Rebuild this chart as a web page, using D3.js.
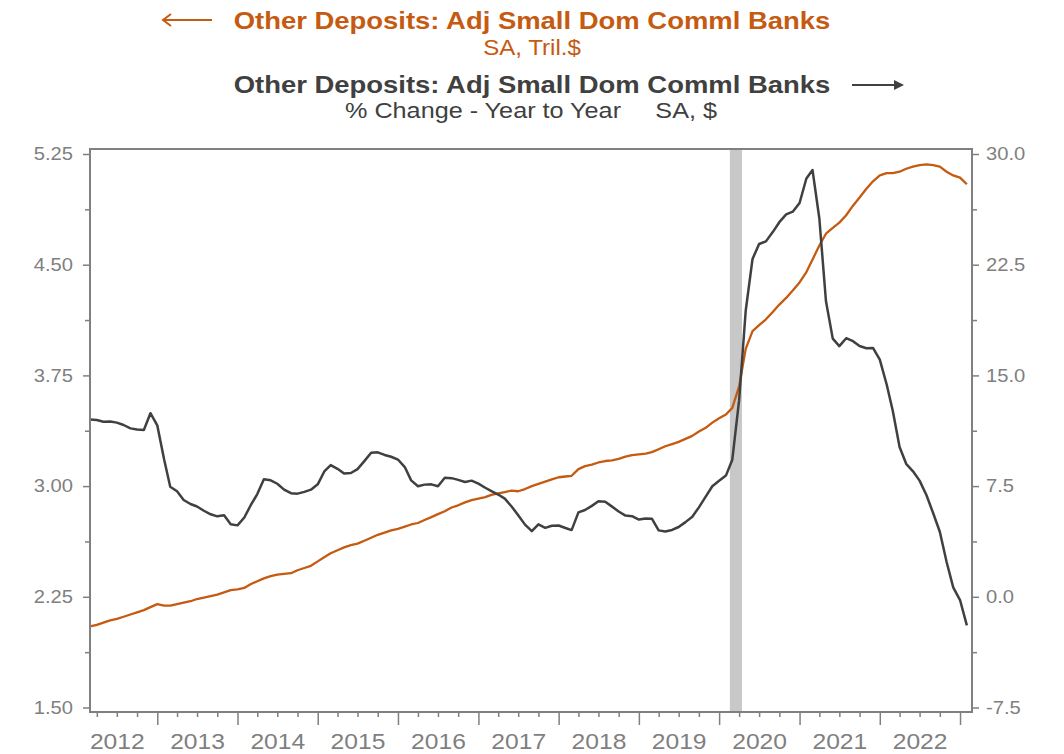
<!DOCTYPE html>
<html>
<head>
<meta charset="utf-8">
<script src="https://cdn.jsdelivr.net/npm/d3@7"></script>
<style>
  body { margin: 0; background: #fff; }
  svg text { font-family: Arial, "Liberation Sans", sans-serif; }
</style>
</head>
<body>
<svg id="chart" width="1064" height="754"></svg>
<script>
// monthly, Mar 2012 .. Feb 2023
var firstMonth = new Date(2012, 2, 1);

// Other deposits, small domestic commercial banks, SA, Tril.$ (left axis)
var depositsLevel = [
  2.05, 2.06, 2.075, 2.09, 2.10, 2.115, 2.13, 2.145, 2.16, 2.18,
  2.20, 2.19, 2.19, 2.20, 2.21, 2.22, 2.235, 2.245, 2.255, 2.265,
  2.28, 2.295, 2.30, 2.31, 2.335, 2.355, 2.375, 2.39, 2.40, 2.405,
  2.41, 2.43, 2.445, 2.46, 2.49, 2.52, 2.545, 2.565, 2.585, 2.60,
  2.61, 2.63, 2.65, 2.67, 2.685, 2.70, 2.71, 2.725, 2.74, 2.75,
  2.77, 2.79, 2.81, 2.83, 2.855, 2.87, 2.89, 2.905, 2.915, 2.925,
  2.94, 2.95, 2.96, 2.97, 2.965, 2.98, 3.00, 3.015, 3.03, 3.045,
  3.06, 3.065, 3.07, 3.115, 3.135, 3.145, 3.16, 3.17, 3.175, 3.185,
  3.20, 3.21, 3.215, 3.22, 3.23, 3.25, 3.27, 3.285, 3.30, 3.32,
  3.34, 3.37, 3.395, 3.43, 3.46, 3.485, 3.53, 3.675, 3.93, 4.05,
  4.09, 4.13, 4.18, 4.23, 4.275, 4.325, 4.38, 4.45, 4.535, 4.63,
  4.71, 4.75, 4.785, 4.835, 4.90, 4.955, 5.015, 5.065, 5.105, 5.12,
  5.12, 5.13, 5.15, 5.165, 5.175, 5.18, 5.175, 5.165, 5.13, 5.105,
  5.09, 5.045
];

// same series, % change year to year (right axis)
var depositsYoY = [
  12.01, 11.98, 11.86, 11.87, 11.80, 11.64, 11.41, 11.34, 11.30, 12.44,
  11.62, 9.32, 7.46, 7.15, 6.56, 6.29, 6.12, 5.83, 5.59, 5.45,
  5.52, 4.91, 4.84, 5.37, 6.17, 6.96, 7.96, 7.89, 7.66, 7.26,
  7.02, 6.99, 7.11, 7.26, 7.62, 8.52, 8.92, 8.67, 8.35, 8.39,
  8.65, 9.19, 9.76, 9.79, 9.61, 9.49, 9.30, 8.79, 7.89, 7.49,
  7.60, 7.62, 7.49, 8.06, 8.04, 7.92, 7.78, 7.87, 7.67, 7.39,
  7.16, 6.93, 6.65, 6.12, 5.53, 4.89, 4.45, 4.91, 4.67, 4.81,
  4.83, 4.66, 4.52, 5.72, 5.88, 6.16, 6.47, 6.44, 6.11, 5.78,
  5.50, 5.46, 5.23, 5.30, 5.29, 4.50, 4.43, 4.53, 4.73, 5.06,
  5.42, 6.06, 6.79, 7.49, 7.86, 8.21, 9.29, 13.32, 19.38, 22.89,
  23.90, 24.08, 24.71, 25.38, 25.91, 26.09, 26.68, 28.34, 28.91, 25.63,
  20.04, 17.49, 16.98, 17.52, 17.32, 16.99, 16.84, 16.86, 16.07, 14.40,
  12.61, 10.15, 9.01, 8.50, 7.87, 6.90, 5.66, 4.41, 2.36, 0.64,
  -0.22, -1.94
];

var leftTicks = [1.5, 2.25, 3.0, 3.75, 4.5, 5.25];
var leftMinor = [1.875, 2.625, 3.375, 4.125, 4.875];
var rightTicks = [-7.5, 0, 7.5, 15, 22.5, 30];
var rightMinor = [-3.75, 3.75, 11.25, 18.75, 26.25];
var yearLabels = [2012, 2013, 2014, 2015, 2016, 2017, 2018, 2019, 2020, 2021, 2022];
var recession = [new Date(2020, 1, 19), new Date(2020, 3, 14)];

var orange = "#c55a11", dark = "#404040", grey = "#808080", labelGrey = "#7f7f7f";

var svg = d3.select("#chart");

var months = depositsLevel.map(function(d, i){ return d3.timeMonth.offset(firstMonth, i); });

var x = d3.scaleTime()
  .domain([firstMonth, new Date(2023, 2, 1)])
  .range([90, 973]);
var yL = d3.scaleLinear().domain([1.5, 5.25]).range([707.5, 154]);
var yR = d3.scaleLinear().domain([-7.5, 30]).range([707.5, 154]);

// recession shading
svg.append("rect")
  .attr("x", x(recession[0]))
  .attr("y", 150)
  .attr("width", x(recession[1]) - x(recession[0]))
  .attr("height", 562)
  .attr("fill", "#c8c8c8");

// lines
var lineL = d3.line()
  .x(function(d, i){ return x(months[i]); })
  .y(function(d){ return yL(d); });
var lineR = d3.line()
  .x(function(d, i){ return x(months[i]); })
  .y(function(d){ return yR(d); });

svg.append("path")
  .datum(depositsLevel)
  .attr("d", lineL)
  .attr("fill", "none")
  .attr("stroke", orange)
  .attr("stroke-width", 2.3)
  .attr("stroke-linejoin", "round");

svg.append("path")
  .datum(depositsYoY)
  .attr("d", lineR)
  .attr("fill", "none")
  .attr("stroke", dark)
  .attr("stroke-width", 2.5)
  .attr("stroke-linejoin", "round");

// frame
svg.append("rect")
  .attr("x", 90)
  .attr("y", 149)
  .attr("width", 882)
  .attr("height", 563)
  .attr("fill", "none")
  .attr("stroke", grey)
  .attr("stroke-width", 2);

function styleAxis(g, size){
  g.select(".domain").remove();
  g.selectAll(".tick line").attr("stroke", grey).attr("stroke-width", 1.5);
  g.selectAll(".tick text")
    .attr("fill", labelGrey)
    .attr("font-size", size)
    .attr("font-family", "Arial, 'Liberation Sans', sans-serif");
}

// left axis
svg.append("g").attr("transform", "translate(90,0)")
  .call(d3.axisLeft(yL).tickValues(leftTicks).tickSize(7).tickPadding(10)
    .tickFormat(function(d){ return d.toFixed(2); }))
  .call(styleAxis, 18);
svg.append("g").attr("transform", "translate(90,0)")
  .call(d3.axisLeft(yL).tickValues(leftMinor).tickSize(5).tickFormat(""))
  .call(styleAxis, 18);

// right axis
svg.append("g").attr("transform", "translate(972,0)")
  .call(d3.axisRight(yR).tickValues(rightTicks).tickSize(7).tickPadding(7)
    .tickFormat(function(d){ return d.toFixed(1); }))
  .call(styleAxis, 18);
svg.append("g").attr("transform", "translate(972,0)")
  .call(d3.axisRight(yR).tickValues(rightMinor).tickSize(5).tickFormat(""))
  .call(styleAxis, 18);

// bottom axis
var yearStarts = d3.timeYear.range(new Date(2013, 0, 1), new Date(2023, 1, 1));
var quarters = d3.timeMonth.every(3).range(new Date(2012, 3, 1), new Date(2023, 2, 1))
  .filter(function(d){ return d.getMonth() !== 0; });

svg.append("g").attr("transform", "translate(0,712)")
  .call(d3.axisBottom(x).tickValues(yearStarts).tickSize(13).tickFormat(""))
  .call(styleAxis, 22);
svg.append("g").attr("transform", "translate(0,712)")
  .call(d3.axisBottom(x).tickValues(quarters).tickSize(5).tickFormat(""))
  .call(styleAxis, 22);
svg.append("g").attr("transform", "translate(0,712)")
  .call(d3.axisBottom(x)
    .tickValues(yearLabels.map(function(y){ return new Date(y, 6, 1); }))
    .tickSize(0).tickPadding(21.5)
    .tickFormat(d3.timeFormat("%Y")))
  .call(styleAxis, 22);

// titles
svg.append("text")
  .attr("x", 532).attr("y", 29)
  .attr("text-anchor", "middle")
  .attr("font-size", 24.5).attr("font-weight", "bold")
  .attr("fill", orange)
  .text("Other Deposits: Adj Small Dom Comml Banks");
svg.append("path")
  .attr("d", "M212,20H163M171,14L163,20L171,26")
  .attr("fill", "none").attr("stroke", orange).attr("stroke-width", 2);
svg.append("text")
  .attr("x", 532).attr("y", 55)
  .attr("text-anchor", "middle")
  .attr("font-size", 21.5)
  .attr("fill", orange)
  .text("SA, Tril.$");

svg.append("text")
  .attr("x", 532).attr("y", 93)
  .attr("text-anchor", "middle")
  .attr("font-size", 24.5).attr("font-weight", "bold")
  .attr("fill", dark)
  .text("Other Deposits: Adj Small Dom Comml Banks");
svg.append("path")
  .attr("d", "M852,85H897")
  .attr("fill", "none").attr("stroke", dark).attr("stroke-width", 2);
svg.append("path")
  .attr("d", "M904,85L894,80L894,90Z")
  .attr("fill", dark);
svg.append("text")
  .attr("x", 345).attr("y", 118)
  .attr("font-size", 22.5)
  .attr("fill", dark)
  .text("% Change - Year to Year");
svg.append("text")
  .attr("x", 717).attr("y", 118)
  .attr("text-anchor", "end")
  .attr("font-size", 22.5)
  .attr("fill", dark)
  .text("SA, $");

// reference text is about 12% wider than Arial
svg.selectAll("text").each(function(){
  var w = this.getComputedTextLength();
  if (w > 0) {
    d3.select(this)
      .attr("textLength", w * 1.12)
      .attr("lengthAdjust", "spacingAndGlyphs");
  }
});
</script>
</body>
</html>
